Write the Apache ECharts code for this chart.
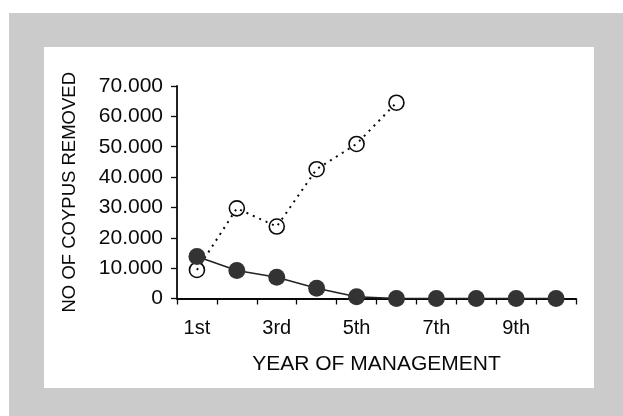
<!DOCTYPE html>
<html>
<head>
<meta charset="utf-8">
<script src="https://cdn.jsdelivr.net/npm/echarts@6/dist/echarts.min.js"></script>
<style>
  html, body { margin: 0; padding: 0; background: #fff; }
  #frame { position: absolute; left: 9px; top: 13px; width: 614px; height: 403px; background: #cbcbcb; }
  #panel { position: absolute; left: 44px; top: 47px; width: 550px; height: 341px; background: #fff; }
  #chart { position: absolute; left: 0; top: 0; width: 623px; height: 416px; }
</style>
</head>
<body>
<div id="frame"></div>
<div id="panel"></div>
<div id="chart"></div>
<script>
  // Données
  const years = ['1st', '2nd', '3rd', '4th', '5th', '6th', '7th', '8th', '9th', '10th'];
  const openValues = [9400, 29700, 23700, 42600, 50900, 64500, null, null, null, null];
  const filledValues = [13800, 9200, 7000, 3400, 600, 0, 0, 0, 0, 0];
  const yTicks = [0, 10000, 20000, 30000, 40000, 50000, 60000, 70000];

  const font = '"Liberation Sans", Arial, Helvetica, sans-serif';
  const ink = '#0a0a0a';

  const chart = echarts.init(document.getElementById('chart'), null, { renderer: 'canvas' });

  chart.setOption({
    backgroundColor: 'transparent',
    animation: false,
    grid: { left: 177, right: 47, top: 86, bottom: 117.5, containLabel: false },
    xAxis: {
      type: 'category',
      data: years,
      boundaryGap: true,
      name: 'YEAR OF MANAGEMENT',
      nameLocation: 'middle',
      nameGap: 55,
      nameTextStyle: { fontFamily: font, fontSize: 21, color: ink },
      axisLine: { lineStyle: { color: ink, width: 1.8 } },
      axisTick: { show: true, interval: 0, length: 6, lineStyle: { color: ink, width: 1.3 } },
      axisLabel: { interval: 1, margin: 20, fontFamily: font, fontSize: 20, color: ink },
      splitLine: { show: false }
    },
    yAxis: {
      type: 'value',
      min: yTicks[0],
      max: yTicks[yTicks.length - 1],
      interval: yTicks[1] - yTicks[0],
      name: 'NO OF COYPUS REMOVED',
      nameLocation: 'middle',
      nameRotate: 90,
      nameGap: 98,
      nameTextStyle: { fontFamily: font, fontSize: 18.5, color: ink },
      axisLine: { show: true, lineStyle: { color: ink, width: 1.8 } },
      axisTick: { show: true, length: 6, lineStyle: { color: ink, width: 1.3 } },
      axisLabel: {
        margin: 14,
        fontFamily: font,
        fontSize: 21,
        color: ink,
        formatter: v => v === 0 ? '0' : (v / 1000) + '.000'
      },
      splitLine: { show: false }
    },
    series: [
      {
        type: 'line',
        data: openValues,
        symbol: 'circle',
        symbolSize: 15,
        z: 2,
        lineStyle: { color: ink, width: 2, type: [2, 5] },
        itemStyle: { color: 'rgba(255,255,255,0)', borderColor: ink, borderWidth: 1.6 }
      },
      {
        type: 'line',
        data: filledValues,
        symbol: 'circle',
        symbolSize: 17,
        z: 3,
        lineStyle: { color: '#222', width: 1.6 },
        itemStyle: { color: '#333', borderColor: '#333', borderWidth: 0 }
      }
    ]
  });

  window.addEventListener('resize', () => chart.resize());
</script>
</body>
</html>
